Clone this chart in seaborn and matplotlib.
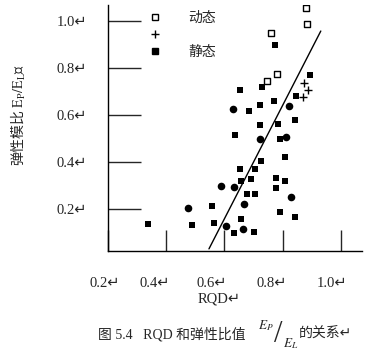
import pandas as pd
import seaborn as sns
from matplotlib import pyplot as plt
from matplotlib.lines import Line2D
from matplotlib.transforms import ScaledTranslation

# RQD vs elastic modulus ratio Ep/EL (fig 5.4)

dyn_rqd = [0.880, 0.883, 0.760, 0.780, 0.746]
dyn_ratio = [1.055, 0.987, 0.949, 0.774, 0.745]

plus_rqd = [0.873, 0.887, 0.870]
plus_ratio = [0.736, 0.706, 0.677]

static_rqd = [0.773, 0.894, 0.729, 0.653, 0.845, 0.770, 0.684, 0.722, 0.842, 0.722, 0.784,
              0.636, 0.791, 0.808, 0.725, 0.653, 0.705, 0.777, 0.808, 0.777, 0.657, 0.691,
              0.677, 0.705, 0.557, 0.791, 0.842, 0.337, 0.488, 0.564, 0.657, 0.633, 0.701]
static_ratio = [0.898, 0.770, 0.719, 0.706, 0.681, 0.660, 0.617, 0.643, 0.579, 0.557, 0.562,
                0.515, 0.498, 0.421, 0.404, 0.370, 0.370, 0.332, 0.319, 0.289, 0.319, 0.328,
                0.264, 0.264, 0.213, 0.187, 0.166, 0.136, 0.132, 0.140, 0.157, 0.098, 0.102]

round_rqd = [0.629, 0.821, 0.722, 0.811, 0.588, 0.633, 0.828, 0.667, 0.475, 0.605, 0.664]
round_ratio = [0.626, 0.638, 0.498, 0.506, 0.298, 0.294, 0.251, 0.221, 0.204, 0.128, 0.115]

fit_rqd = [0.547, 0.931]
fit_ratio = [0.030, 0.957]

ticks = [0.2, 0.4, 0.6, 0.8, 1.0]
tick_labels = ['0.2↵', '0.4↵', '0.6↵', '0.8↵', '1.0↵']

sns.set_style('ticks')
plt.rcParams['font.family'] = ['Liberation Serif', 'Noto Sans CJK SC', 'DejaVu Sans']
plt.rcParams['mathtext.fontset'] = 'stix'
cjk = ['Noto Sans CJK SC', 'DejaVu Sans']

fig = plt.figure(figsize=(3.67, 3.54), dpi=100)
ax = fig.add_axes([0.294, 0.291, 0.692, 0.695])

sns.scatterplot(x=static_rqd, y=static_ratio, marker='s', color='black', s=24, linewidth=0, ax=ax)
sns.scatterplot(x=round_rqd, y=round_ratio, marker='o', color='black', s=30, linewidth=0, ax=ax)
sns.scatterplot(x=dyn_rqd, y=dyn_ratio, marker='s', facecolor='white', edgecolor='black',
                s=16, linewidth=1, ax=ax)
sns.scatterplot(x=plus_rqd, y=plus_ratio, marker='+', color='black', s=30, linewidth=1, ax=ax)
sns.lineplot(x=fit_rqd, y=fit_ratio, color='black', linewidth=1, ax=ax)

ax.set_xlim(0.2, 1.072)
ax.set_ylim(0.021, 1.068)
ax.set_xticks(ticks)
ax.set_xticklabels(tick_labels)
ax.set_yticks(ticks)
ax.set_yticklabels(tick_labels)
ax.tick_params(axis='y', direction='in', length=24, width=1, pad=15, labelsize=10.5)
ax.tick_params(axis='x', direction='in', length=15, width=1, pad=19, labelsize=10.5)
# labels in the scan sit a bit left of their ticks
shifts = [-0.03, -0.11, -0.13, -0.11, -0.09]
for lab, dx in zip(ax.get_xticklabels(), shifts):
    lab.set_transform(lab.get_transform() + ScaledTranslation(dx, 0, fig.dpi_scale_trans))
sns.despine(ax=ax)
for sp in ['left', 'bottom']:
    ax.spines[sp].set_linewidth(1)
    ax.spines[sp].set_color('black')

ax.set_xlabel('RQD↵', fontsize=10.5)
ax.xaxis.set_label_coords(0.437, -0.17)
ax.set_ylabel(r'弹性模比 $\mathrm{E_P/E_L}$↵', fontsize=10, family=cjk)
ax.yaxis.set_label_coords(-0.315, 0.553)

handles = [Line2D([], [], marker='s', ls='', mfc='white', mec='black', ms=4.5, mew=1),
           Line2D([], [], marker='+', ls='', color='black', ms=6, mew=1),
           Line2D([], [], marker='s', ls='', color='black', ms=5)]
ax.legend(handles, ['动态', '', '静态'], loc='upper left', bbox_to_anchor=(0.157, 0.975),
          frameon=False, borderpad=0, borderaxespad=0, handlelength=1, handletextpad=1.9,
          labelspacing=0.2, prop={'family': cjk, 'size': 10})

fig.text(98 / 367, 1 - 334 / 354, '图 5.4   RQD 和弹性比值', ha='left', va='center', fontsize=10)
fig.text(274 / 367, 1 - 326 / 354, r'$E_P$', ha='right', va='center', fontsize=9.5)
fig.text(278.5 / 367, 1 - 335 / 354, '/', ha='center', va='center', fontsize=22)
fig.text(283 / 367, 1 - 344 / 354, r'$E_L$', ha='left', va='center', fontsize=9.5)
fig.text(299 / 367, 1 - 334 / 354, '的关系↵', ha='left', va='center', fontsize=10)

plt.savefig('out.png', dpi=100)
